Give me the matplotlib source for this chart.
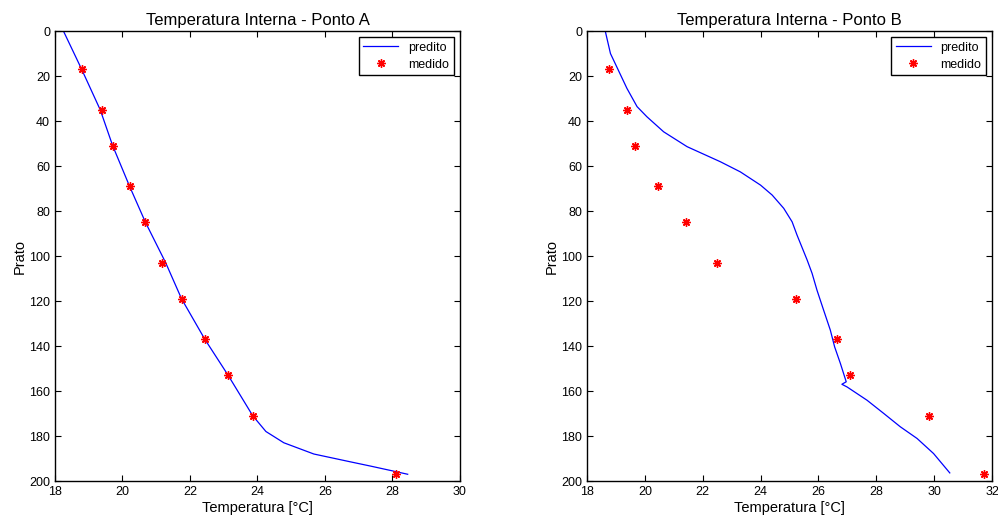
import matplotlib

matplotlib.use("Agg")
import matplotlib.pyplot as plt

plt.rcParams["font.family"] = ["Liberation Sans", "DejaVu Sans"]

# measured (medido) plates, shared by both points
pratos_medido = [17, 35, 51, 69, 85, 103, 119, 137, 153, 171, 197]

# Ponto A
temp_medido_a = [18.81, 19.40, 19.71, 20.21, 20.68, 21.18, 21.75, 22.44, 23.13, 23.86, 28.10]
pratos_pred_a = [0, 17, 35, 51, 69, 85, 103, 119, 137, 153, 171, 178, 183, 188, 191.5, 193.4, 195.5, 197]
temp_pred_a = [18.25, 18.79, 19.34, 19.71, 20.21, 20.68, 21.28, 21.75, 22.44, 23.13, 23.86,
               24.25, 24.78, 25.67, 26.76, 27.36, 28.00, 28.45]

# Ponto B
temp_medido_b = [18.75, 19.38, 19.65, 20.44, 21.43, 22.51, 25.22, 26.65, 27.09, 29.81, 31.71]
pratos_pred_b = [0, 10, 25.5, 33.6, 38.1, 44.8, 51.4, 58.1, 62.6, 68.5, 72.9, 78.8, 84.8,
                 90.7, 101.8, 107.7, 115.2, 124.1, 132.9, 140.4, 147.8, 155.9, 157.0,
                 158.2, 164.1, 170.0, 175.9, 181.1, 187.8, 196.4]
temp_pred_b = [18.63, 18.81, 19.38, 19.73, 20.07, 20.65, 21.46, 22.61, 23.30, 24.00, 24.40,
               24.80, 25.09, 25.26, 25.61, 25.78, 25.95, 26.18, 26.41, 26.56, 26.76, 26.96,
               26.81, 26.99, 27.68, 28.26, 28.83, 29.41, 29.98, 30.54]

AXES = [
    ("Temperatura Interna - Ponto A", temp_pred_a, pratos_pred_a, temp_medido_a,
     [0.0551, 0.0732, 0.4058, 0.867], (18, 30)),
    ("Temperatura Interna - Ponto B", temp_pred_b, pratos_pred_b, temp_medido_b,
     [0.5882, 0.0732, 0.4058, 0.867], (18, 32)),
]

fig = plt.figure(figsize=(9.98, 5.19), dpi=100)

for title, tp, pp, tm, rect, xlim in AXES:
    ax = fig.add_axes(rect)
    ax.plot(tp, pp, color="blue", linewidth=0.9, label="predito")
    ax.plot(tm, pratos_medido, linestyle="none", marker=(8, 2, 0), markersize=6,
            color="red", markeredgewidth=1.0, label="medido")
    ax.set_xlim(*xlim)
    ax.set_ylim(200, 0)
    ax.set_xticks(range(xlim[0], xlim[1] + 1, 2))
    ax.set_yticks(range(0, 201, 20))
    ax.tick_params(direction="in", top=True, right=True, labelsize=9, length=4)
    for s in ax.spines.values():
        s.set_linewidth(1.0)
    ax.set_title(title, fontsize=12, pad=4)
    ax.set_xlabel("Temperatura [°C]", fontsize=10.5, labelpad=2)
    ax.set_ylabel("Prato", fontsize=10.5, labelpad=2)
    leg = ax.legend(loc="upper right", fontsize=9, fancybox=False, framealpha=1,
                    edgecolor="black", borderaxespad=0.5, handlelength=2.8,
                    borderpad=0.35, labelspacing=0.4)
    leg.get_frame().set_linewidth(1.0)

fig.savefig("out.png", dpi=100)
